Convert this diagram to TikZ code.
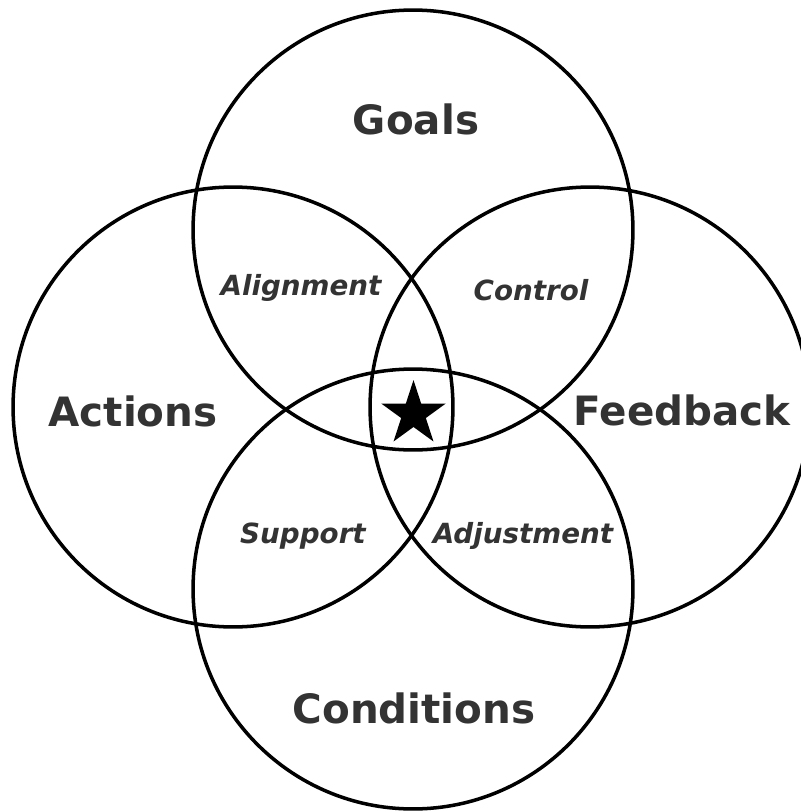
\documentclass[tikz,border=0pt]{standalone}
\usepackage{fontspec}
\setmainfont{DejaVu Sans}
\usetikzlibrary{shapes.geometric}
\definecolor{labelgray}{HTML}{333333}
\tikzset{
	ring/.style={circle, draw=black, line width=2pt, minimum size=8.8cm, inner sep=0pt},
	mainlabel/.style={text=labelgray, font=\fontsize{23}{27}\selectfont\bfseries},
	overlap/.style={text=labelgray, font=\fontsize{15.8}{19}\selectfont\bfseries\itshape},
}
\begin{document}
\begin{tikzpicture}[x=0.02cm, y=-0.02cm]
	\useasboundingbox (0, 0) rectangle (801, 812);
	\node[ring] (goals) at (413, 230) {};
	\node[ring] (actions) at (233, 407) {};
	\node[ring] (feedback) at (590, 407) {};
	\node[ring] (conditions) at (413, 589) {};
	\node[mainlabel] (g) at (416, 119) {Goals};
	\node[mainlabel] (a) at (133, 411) {Actions};
	\node[mainlabel] (f) at (682, 410) {Feedback};
	\node[mainlabel] (c) at (414, 708) {Conditions};
	\node[overlap] (al) at (301, 288) {Alignment};
	\node[overlap] (co) at (531, 290) {Control};
	\node[overlap] (su) at (303, 536) {Support};
	\node[overlap] (ad) at (523, 536) {Adjustment};
	\node[star, star points=5, star point ratio=2.618, fill=black, inner sep=0pt, minimum size=1.36cm] (s) at (413.5, 414) {};
\end{tikzpicture}
\end{document}
